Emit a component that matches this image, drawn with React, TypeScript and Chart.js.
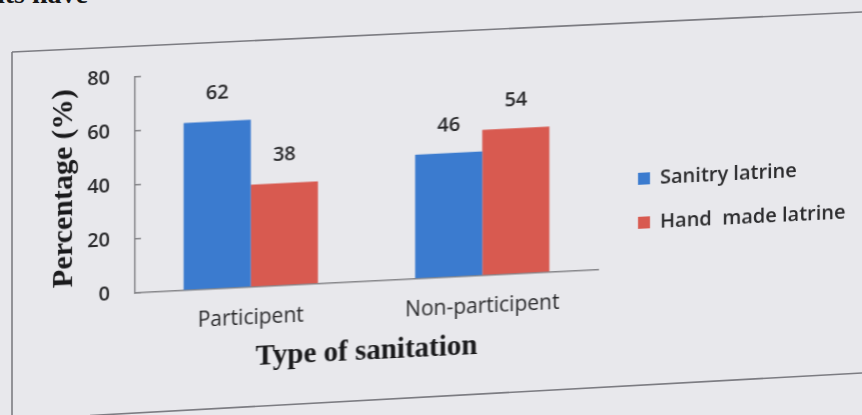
import React, { useEffect, useRef } from "react";
import { Chart, registerables } from "chart.js";

Chart.register(...registerables);

// Survey results: share of households by latrine type
const categories = ["Participent", "Non-participent"];
const seriesNames = ["Sanitry latrine", "Hand  made latrine"];
const sanitaryLatrine = [62, 46];
const handMadeLatrine = [38, 54];
const yTicks = [0, 20, 40, 60, 80];

const BLUE = "#3b7bcf";
const RED = "#d85a50";
const INK = "#2a2a2c";
const TITLE_INK = "#1a1a1c";
const AXIS = "#86868a";
const PAPER = "#e8e8ec";
const SANS = "'Open Sans', 'Noto Sans', sans-serif";
const SERIF = "'Liberation Serif', 'DejaVu Serif', serif";

// Writes each bar's value just above it
const valueLabels = {
  id: "valueLabels",
  afterDatasetsDraw(chart: any) {
    const { ctx } = chart;
    ctx.save();
    ctx.font = `600 20px ${SANS}`;
    ctx.fillStyle = INK;
    ctx.textAlign = "center";
    ctx.textBaseline = "middle";
    chart.data.datasets.forEach((ds: any, i: number) => {
      const meta = chart.getDatasetMeta(i);
      meta.data.forEach((bar: any, j: number) => {
        ctx.fillText(String(ds.data[j]), bar.x, bar.y - 28);
      });
    });
    ctx.restore();
  },
};

// Moves the legend block a little right of the plot and down toward the middle,
// giving it the full remaining width so the longer entry is not cut off
const legendPlacement = {
  id: "legendPlacement",
  afterLayout(chart: any) {
    const lg = chart.legend;
    if (!lg) return;
    lg.left = 614;
    lg.right = chart.width;
    lg.width = lg.right - lg.left;
    lg.top = 170;
    lg.bottom = 400;
    lg.height = lg.bottom - lg.top;
  },
};

function LatrineChart() {
  const ref = useRef<HTMLCanvasElement>(null);

  useEffect(() => {
    if (!ref.current) return;
    const chart = new Chart(ref.current, {
      type: "bar",
      data: {
        labels: categories,
        datasets: [
          { label: seriesNames[0], data: sanitaryLatrine, backgroundColor: BLUE, borderWidth: 0 },
          { label: seriesNames[1], data: handMadeLatrine, backgroundColor: RED, borderWidth: 0 },
        ],
      },
      options: {
        animation: false,
        responsive: true,
        maintainAspectRatio: false,
        devicePixelRatio: 1,
        events: [],
        layout: { padding: { top: 77, right: 64, bottom: 34, left: 20 } },
        datasets: { bar: { categoryPercentage: 0.58, barPercentage: 1 } },
        plugins: {
          tooltip: { enabled: false },
          legend: {
            position: "right",
            align: "start",
            maxWidth: 200,
            labels: {
              boxWidth: 12,
              boxHeight: 12,
              padding: 24,
              color: INK,
              font: { family: SANS, size: 20, weight: 600 },
            },
          },
        },
        scales: {
          x: {
            grid: { display: false, drawTicks: false },
            border: { display: true, color: AXIS, width: 1.5 },
            ticks: { color: INK, padding: 18, font: { family: SANS, size: 21, weight: 500 } },
            title: {
              display: true,
              text: "Type of sanitation",
              color: TITLE_INK,
              font: { family: SERIF, size: 29, weight: "bold" },
              padding: { top: 0, bottom: 0 },
            },
            afterFit: (s: any) => {
              s.height = 88;
            },
          },
          y: {
            min: 0,
            max: 80,
            grid: {
              display: true,
              drawOnChartArea: false,
              drawTicks: true,
              tickLength: -6,
              color: AXIS,
              lineWidth: 1.5,
            },
            border: { display: true, color: AXIS, width: 1.5 },
            ticks: { stepSize: 20, padding: 31, color: INK, font: { family: SANS, size: 20, weight: 600 } },
            title: {
              display: true,
              text: "Percentage (%)",
              color: TITLE_INK,
              font: { family: SERIF, size: 30, weight: "bold" },
              padding: { top: 26, bottom: 0 },
            },
            afterBuildTicks: (s: any) => {
              s.ticks = yTicks.map((v) => ({ value: v }));
            },
            afterFit: (s: any) => {
              s.width = 115;
            },
          },
        },
      },
      plugins: [valueLabels, legendPlacement],
    } as any);
    return () => chart.destroy();
  }, []);

  return (
    <div style={{ position: "absolute", left: 0, top: 0, width: 862, height: 415 }}>
      <canvas ref={ref} />
    </div>
  );
}

export default function App() {
  return (
    <div
      style={{
        position: "fixed",
        left: 0,
        top: 0,
        width: 862,
        height: 415,
        overflow: "hidden",
        background: PAPER,
      }}
    >
      <div
        style={{
          position: "absolute",
          left: -3,
          top: -20,
          font: `bold 28px ${SERIF}`,
          lineHeight: "28px",
          color: "#151515",
          whiteSpace: "nowrap",
        }}
      >
        its have
      </div>
      <svg
        width={862}
        height={415}
        style={{ position: "absolute", left: 0, top: 0 }}
      >
        <line x1={12} y1={52} x2={12} y2={415} stroke="#7c7c82" strokeWidth={1.6} />
        <line x1={12} y1={52} x2={862} y2={12} stroke="#7c7c82" strokeWidth={1.6} />
        <line x1={90} y1={415.5} x2={862} y2={373} stroke="#7c7c82" strokeWidth={1.6} />
      </svg>
      <div
        style={{
          position: "absolute",
          left: 0,
          top: 0,
          width: 862,
          height: 415,
          transform: "skewY(-2.86deg)",
          transformOrigin: "135px 293px",
        }}
      >
        <LatrineChart />
      </div>
    </div>
  );
}
